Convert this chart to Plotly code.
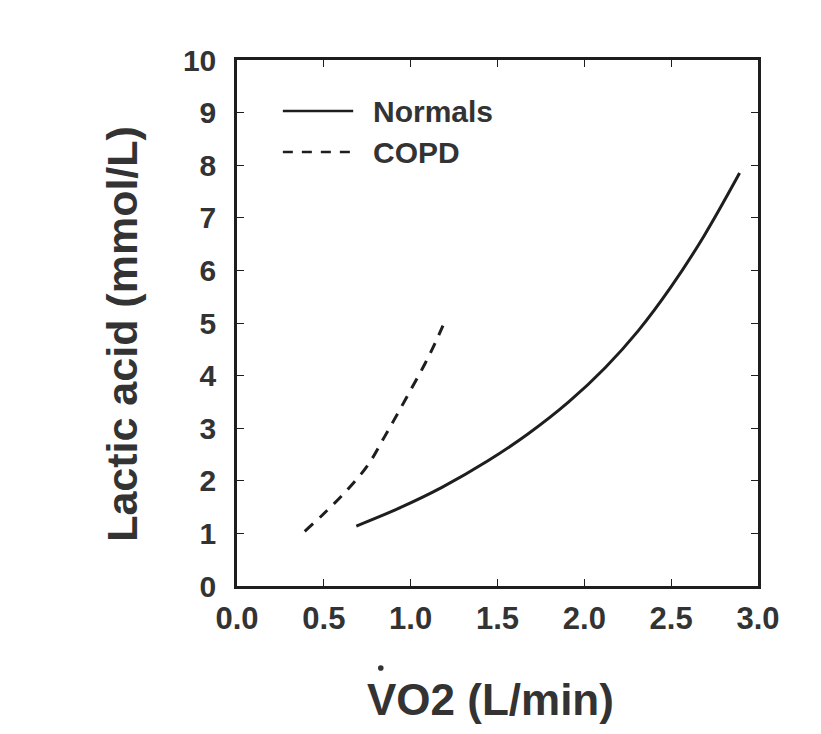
import plotly.graph_objects as go

# values
normals_vo2 = [0.687, 0.93, 1.18, 1.445, 1.675, 1.91, 2.12, 2.31, 2.50, 2.69, 2.894]
normals_lactate = [1.14, 1.475, 1.875, 2.38, 2.89, 3.50, 4.15, 4.85, 5.69, 6.66, 7.85]

copd_vo2 = [0.39, 0.495, 0.63, 0.754, 0.85, 0.927, 1.004, 1.08, 1.138, 1.186]
copd_lactate = [1.04, 1.36, 1.81, 2.30, 2.84, 3.29, 3.75, 4.21, 4.60, 4.95]

x_ticks = [0.0, 0.5, 1.0, 1.5, 2.0, 2.5, 3.0]
x_ticktext = ["0.0", "0.5", "1.0", "1.5", "2.0", "2.5", "3.0"]
y_ticks = list(range(0, 11))

ink = "#1e1e1e"
text_col = "#333333"
font = "Liberation Sans"

fig = go.Figure()
fig.add_trace(go.Scatter(
    x=normals_vo2, y=normals_lactate, mode="lines", name="Normals",
    line=dict(color=ink, width=3, shape="spline", smoothing=1.0),
    showlegend=False,
))
fig.add_trace(go.Scatter(
    x=copd_vo2, y=copd_lactate, mode="lines", name="COPD",
    line=dict(color=ink, width=3, dash="11px,9px", shape="spline", smoothing=1.0),
    showlegend=False,
))

# hand-made legend so the sample lines are as long as in the original
fig.add_shape(type="line", xref="paper", yref="paper",
              x0=0.088, x1=0.223, y0=0.903, y1=0.903,
              line=dict(color=ink, width=2.5))
fig.add_shape(type="line", xref="paper", yref="paper",
              x0=0.088, x1=0.223, y0=0.825, y1=0.825,
              line=dict(color=ink, width=2.5, dash="10px,9px"))
for label, ypos in [("Normals", 0.903), ("COPD", 0.825)]:
    fig.add_annotation(text="<b>%s</b>" % label, xref="paper", yref="paper",
                       x=0.257, y=ypos, xanchor="left", yanchor="middle",
                       showarrow=False, font=dict(size=30, color=text_col, family=font))

# axis titles (annotations so they can sit exactly where the scan has them)
fig.add_annotation(text="<b>Lactic acid (mmol/L)</b>", xref="paper", yref="paper",
                   x=-0.222, y=0.48, xanchor="center", yanchor="middle",
                   textangle=-90, showarrow=False,
                   font=dict(size=43, color=text_col, family=font))
fig.add_annotation(text="<b>VO2 (L/min)</b>", xref="paper", yref="paper",
                   x=0.4875, y=-0.2167, xanchor="center", yanchor="middle",
                   showarrow=False,
                   font=dict(size=44, color=text_col, family=font))
# the "rate" dot over the V
fig.add_shape(type="circle", xref="paper", yref="paper",
              xsizemode="pixel", ysizemode="pixel",
              xanchor=0.276, yanchor=-0.156,
              x0=-2.8, x1=2.8, y0=-2.8, y1=2.8,
              fillcolor=text_col, line=dict(width=0))

fig.update_xaxes(
    range=[0, 3.0], tickmode="array", tickvals=x_ticks, ticktext=x_ticktext,
    showline=True, linecolor=ink, linewidth=2.5, mirror="ticks",
    ticks="inside", ticklen=7, tickwidth=1.3, tickcolor=ink,
    showgrid=False, zeroline=False, ticklabelstandoff=3,
    tickfont=dict(size=31, color=text_col, family=font, weight="bold"),
)
fig.update_yaxes(
    range=[0, 10], tickmode="array", tickvals=y_ticks,
    showline=True, linecolor=ink, linewidth=2.5, mirror="ticks",
    ticks="inside", ticklen=7, tickwidth=1.3, tickcolor=ink,
    showgrid=False, zeroline=False, ticklabelstandoff=12,
    tickfont=dict(size=30, color=text_col, family=font, weight="bold"),
)
fig.update_layout(
    width=821, height=734,
    margin=dict(l=229, r=71, t=52, b=156),
    plot_bgcolor="white", paper_bgcolor="white",
)
fig.write_html("out.html")
